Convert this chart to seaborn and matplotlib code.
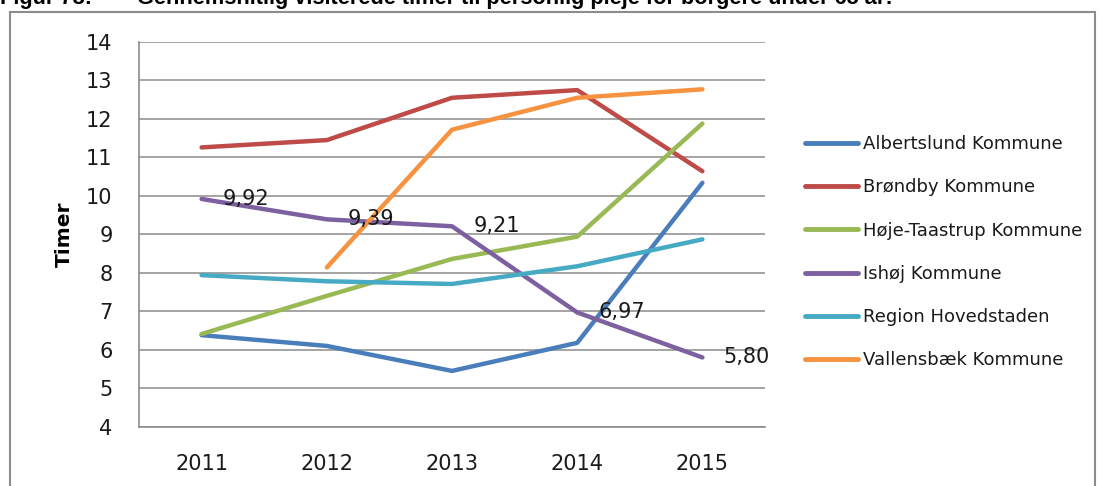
import numpy as np
import pandas as pd
import seaborn as sns
import matplotlib.pyplot as plt
from matplotlib.patches import Rectangle

# data
years = [2011, 2012, 2013, 2014, 2015]
albertslund = [6.38, 6.10, 5.45, 6.18, 10.34]
brondby = [11.26, 11.45, 12.55, 12.75, 10.64]
hoeje_taastrup = [6.41, 7.40, 8.36, 8.94, 11.88]
ishoj = [9.92, 9.39, 9.21, 6.97, 5.80]
region_h = [7.94, 7.78, 7.71, 8.17, 8.87]
vallensbaek = [np.nan, 8.14, 11.72, 12.55, 12.77]

names = ["Albertslund Kommune", "Brøndby Kommune", "Høje-Taastrup Kommune",
         "Ishøj Kommune", "Region Hovedstaden", "Vallensbæk Kommune"]
series = [albertslund, brondby, hoeje_taastrup, ishoj, region_h, vallensbaek]
colors = ["#4A7EBB", "#BE4B48", "#98B954", "#7D60A0", "#46AAC5", "#F69240"]

frames = []
for name, vals in zip(names, series):
    frames.append(pd.DataFrame({"År": years, "Timer": vals, "Kommune": name}))
df = pd.concat(frames, ignore_index=True).dropna()

sns.set_style("white")
plt.rcParams['font.family'] = ['DejaVu Sans']

fig = plt.figure(figsize=(10.99, 4.86), dpi=100)
ax = fig.add_axes([139/1099, 1 - 426.7/486, (765 - 139)/1099, (426.7 - 42)/486])

sns.lineplot(data=df, x="År", y="Timer", hue="Kommune", hue_order=names,
             palette=colors, linewidth=3.2, ax=ax, sort=True)

grid_c = "#8C8C8C"
txt_c = "#1A1A1A"
ax.set_xlim(2010.5, 2015.5)
ax.set_ylim(4, 14)
ax.set_yticks(range(4, 15))
ax.set_xticks(years)
ax.set_xticklabels([str(y) for y in years])
ax.set_xticks([y + 0.5 for y in range(2010, 2016)], minor=True)
ax.tick_params(axis="x", which="major", length=0, pad=20, labelsize=15, labelcolor=txt_c)
ax.tick_params(axis="x", which="minor", length=7, width=1.2, color=grid_c, direction="out")
ax.tick_params(axis="y", which="major", length=7, width=1.2, color=grid_c, direction="out",
               labelsize=15, labelcolor=txt_c, pad=12)
ax.yaxis.grid(True, color=grid_c, linewidth=1.1)
ax.xaxis.grid(False)
for side in ["top", "right"]:
    ax.spines[side].set_visible(False)
for side in ["left", "bottom"]:
    ax.spines[side].set_color(grid_c)
    ax.spines[side].set_linewidth(1.2)
ax.set_axisbelow(True)
ax.set_xlabel("")
ax.set_ylabel("Timer", fontsize=14.5, fontweight="bold", labelpad=9, color="black")

# data labels for Ishøj
for y, v in zip(years, ishoj):
    ax.text(y + 0.17, v, f"{v:.2f}".replace(".", ","), va="center", ha="left",
            fontsize=15, color=txt_c)

handles, labels = ax.get_legend_handles_labels()
ax.get_legend().remove()
for h in handles:
    h.set_linewidth(3.5)
leg = fig.legend(handles, labels, loc="upper left", bbox_to_anchor=(805/1099, 1 - 135/486),
                 frameon=False, fontsize=13, borderpad=0, borderaxespad=0,
                 handlelength=2.95, handletextpad=0.28, labelspacing=1.4)
for t in leg.get_texts():
    t.set_color(txt_c)

# chart border and cut-off caption
fig.patches.append(Rectangle((10/1099, -0.1), (1095 - 10)/1099, 1.1 - 12/486,
                             transform=fig.transFigure, fill=False,
                             edgecolor="#8C8C8C", linewidth=1.5))
cap_font = ['Liberation Sans Narrow', 'Liberation Sans']
fig.text(0.0, 1 - 4/486, "Figur 78:", family=cap_font, fontweight="bold",
         fontsize=15.7, va="baseline", ha="left", color="black")
fig.text(137/1099, 1 - 4/486,
         "Gennemsnitlig visiterede timer til personlig pleje for borgere under 65 år:",
         family=cap_font, fontweight="bold", fontsize=15.7, va="baseline", ha="left",
         color="black")

fig.savefig("out.png", dpi=100)
